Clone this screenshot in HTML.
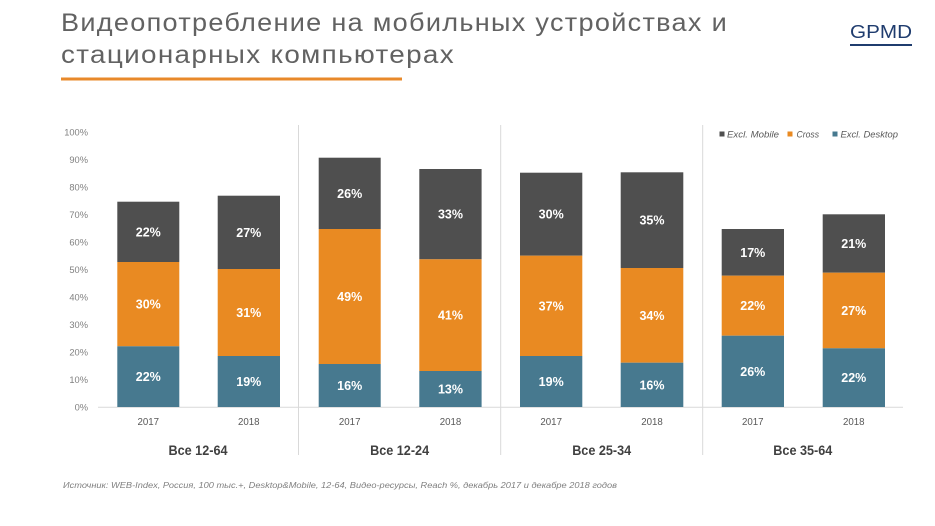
<!DOCTYPE html>
<html>
<head>
<meta charset="utf-8">
<style>
html,body{margin:0;padding:0;background:#fff;}
svg{display:block;}
</style>
</head>
<body>
<svg width="935" height="526" viewBox="0 0 935 526" xmlns="http://www.w3.org/2000/svg" font-family="Liberation Sans, Arial, sans-serif">
<rect width="935" height="526" fill="#fff"/>
<!-- Title -->
<text x="61" y="31" font-size="25" fill="#626262" letter-spacing="1.2" textLength="667" lengthAdjust="spacingAndGlyphs">Видеопотребление на мобильных устройствах и</text>
<text x="61" y="63" font-size="25" fill="#626262" letter-spacing="1.2" textLength="394" lengthAdjust="spacingAndGlyphs">стационарных компьютерах</text>
<rect x="61" y="77.5" width="341" height="3" fill="#E8892A"/>
<!-- Logo -->
<text x="850" y="38" font-size="18" fill="#1F3C6E" textLength="62" lengthAdjust="spacingAndGlyphs">GPMD</text>
<rect x="850" y="44" width="62" height="2" fill="#1F3C6E"/>

<!-- Y axis labels -->
<g font-size="9.3" fill="#808080" text-anchor="end">
<text x="88" y="410.3">0%</text>
<text x="88" y="382.8">10%</text>
<text x="88" y="355.4">20%</text>
<text x="88" y="327.9">30%</text>
<text x="88" y="300.4">40%</text>
<text x="88" y="273.0">50%</text>
<text x="88" y="245.5">60%</text>
<text x="88" y="218.0">70%</text>
<text x="88" y="190.6">80%</text>
<text x="88" y="163.1">90%</text>
<text x="88" y="135.6">100%</text>
</g>

<!-- separators -->
<g stroke="#D9D9D9" stroke-width="1">
<line x1="298.5" y1="125" x2="298.5" y2="455"/>
<line x1="500.7" y1="125" x2="500.7" y2="455"/>
<line x1="702.7" y1="125" x2="702.7" y2="455"/>
<line x1="98" y1="407.3" x2="903" y2="407.3"/>
</g>

<!-- Bars -->
<g>
<rect x="117.3" y="201.7" width="62" height="60.3" fill="#4F4F4F"/>
<rect x="117.3" y="262" width="62" height="84.3" fill="#E98A22"/>
<rect x="117.3" y="346.3" width="62" height="60.7" fill="#47798F"/>

<rect x="217.7" y="195.7" width="62.3" height="73.3" fill="#4F4F4F"/>
<rect x="217.7" y="269" width="62.3" height="87" fill="#E98A22"/>
<rect x="217.7" y="356" width="62.3" height="51" fill="#47798F"/>

<rect x="318.7" y="157.7" width="62" height="71.3" fill="#4F4F4F"/>
<rect x="318.7" y="229" width="62" height="135" fill="#E98A22"/>
<rect x="318.7" y="364" width="62" height="43" fill="#47798F"/>

<rect x="419.3" y="169" width="62.3" height="90.3" fill="#4F4F4F"/>
<rect x="419.3" y="259.3" width="62.3" height="111.7" fill="#E98A22"/>
<rect x="419.3" y="371" width="62.3" height="36" fill="#47798F"/>

<rect x="520" y="172.7" width="62.3" height="83" fill="#4F4F4F"/>
<rect x="520" y="255.7" width="62.3" height="100.3" fill="#E98A22"/>
<rect x="520" y="356" width="62.3" height="51" fill="#47798F"/>

<rect x="620.7" y="172.3" width="62.6" height="95.7" fill="#4F4F4F"/>
<rect x="620.7" y="268" width="62.6" height="94.7" fill="#E98A22"/>
<rect x="620.7" y="362.7" width="62.6" height="44.3" fill="#47798F"/>

<rect x="721.7" y="229" width="62.3" height="46.7" fill="#4F4F4F"/>
<rect x="721.7" y="275.7" width="62.3" height="60" fill="#E98A22"/>
<rect x="721.7" y="335.7" width="62.3" height="71.3" fill="#47798F"/>

<rect x="822.7" y="214.3" width="62.3" height="58.4" fill="#4F4F4F"/>
<rect x="822.7" y="272.7" width="62.3" height="75.6" fill="#E98A22"/>
<rect x="822.7" y="348.3" width="62.3" height="58.7" fill="#47798F"/>
</g>

<!-- Data labels -->
<g font-size="12.5" font-weight="bold" fill="#fff" text-anchor="middle">
<text x="148.3" y="236.3">22%</text>
<text x="148.3" y="308.6">30%</text>
<text x="148.3" y="381.2">22%</text>

<text x="248.8" y="236.8">27%</text>
<text x="248.8" y="317">31%</text>
<text x="248.8" y="386">19%</text>

<text x="349.7" y="197.8">26%</text>
<text x="349.7" y="301">49%</text>
<text x="349.7" y="390">16%</text>

<text x="450.5" y="218.6">33%</text>
<text x="450.5" y="319.6">41%</text>
<text x="450.5" y="393.5">13%</text>

<text x="551.2" y="218.7">30%</text>
<text x="551.2" y="310.3">37%</text>
<text x="551.2" y="386">19%</text>

<text x="652" y="224.6">35%</text>
<text x="652" y="319.8">34%</text>
<text x="652" y="389.3">16%</text>

<text x="752.8" y="256.8">17%</text>
<text x="752.8" y="310.2">22%</text>
<text x="752.8" y="375.8">26%</text>

<text x="853.8" y="248">21%</text>
<text x="853.8" y="315">27%</text>
<text x="853.8" y="382.2">22%</text>
</g>

<!-- Year labels -->
<g font-size="9.7" fill="#595959" text-anchor="middle">
<text x="148.3" y="425">2017</text>
<text x="248.8" y="425">2018</text>
<text x="349.7" y="425">2017</text>
<text x="450.5" y="425">2018</text>
<text x="551.2" y="425">2017</text>
<text x="652" y="425">2018</text>
<text x="752.8" y="425">2017</text>
<text x="853.8" y="425">2018</text>
</g>

<!-- Group labels -->
<g font-size="13.5" font-weight="bold" fill="#404040" text-anchor="middle">
<text x="198" y="455" textLength="59" lengthAdjust="spacingAndGlyphs">Все 12-64</text>
<text x="399.6" y="455" textLength="59" lengthAdjust="spacingAndGlyphs">Все 12-24</text>
<text x="601.7" y="455" textLength="59" lengthAdjust="spacingAndGlyphs">Все 25-34</text>
<text x="802.8" y="455" textLength="59" lengthAdjust="spacingAndGlyphs">Все 35-64</text>
</g>

<!-- Legend -->
<rect x="719.5" y="131.5" width="5" height="5" fill="#4F4F4F"/>
<text x="727" y="137.5" font-size="9.3" font-style="italic" fill="#595959" textLength="52" lengthAdjust="spacingAndGlyphs">Excl. Mobile</text>
<rect x="787.5" y="131.5" width="5" height="5" fill="#E98A22"/>
<text x="796.5" y="137.5" font-size="9.3" font-style="italic" fill="#595959" textLength="22.5" lengthAdjust="spacingAndGlyphs">Cross</text>
<rect x="832.5" y="131.5" width="5" height="5" fill="#47798F"/>
<text x="840.5" y="137.5" font-size="9.3" font-style="italic" fill="#595959" textLength="57.5" lengthAdjust="spacingAndGlyphs">Excl. Desktop</text>

<!-- Source -->
<text x="63" y="488" font-size="8" font-style="italic" fill="#808080" textLength="554" lengthAdjust="spacingAndGlyphs">Источник: WEB-Index, Россия, 100 тыс.+, Desktop&amp;Mobile, 12-64, Видео-ресурсы, Reach %, декабрь 2017 и декабре 2018 годов</text>
</svg>
</body>
</html>
